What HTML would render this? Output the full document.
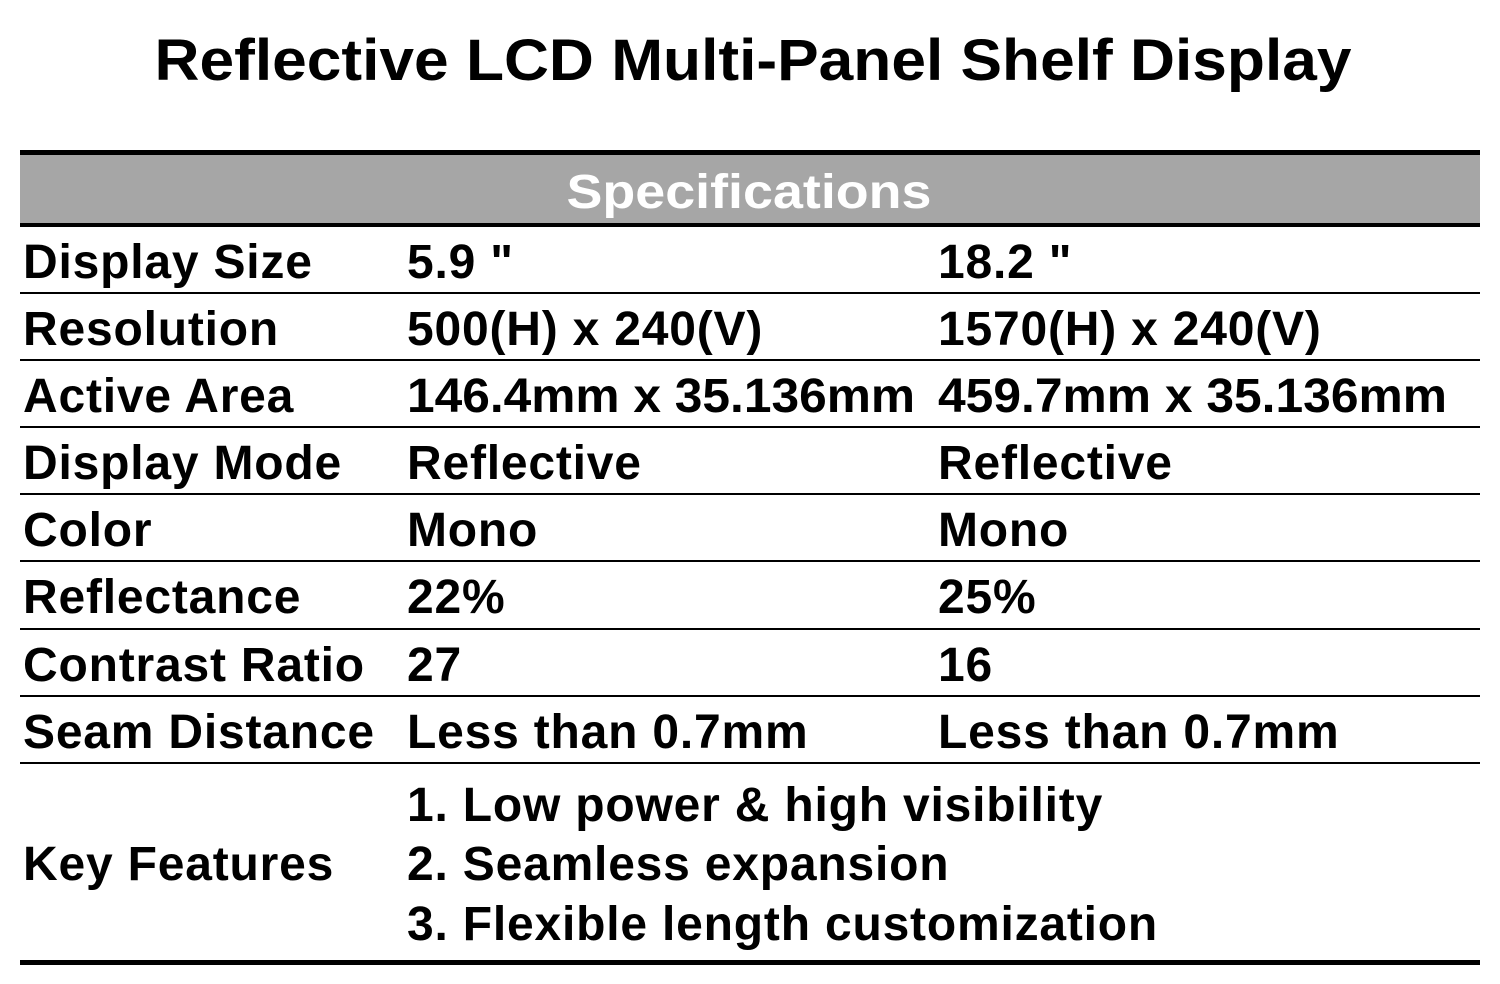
<!DOCTYPE html>
<html><head><meta charset="utf-8"><style>
html,body{margin:0;padding:0;background:#fff}
svg{display:block}
text{font-family:"Liberation Sans",Arial,sans-serif;font-weight:bold;fill:#000}
</style></head><body>
<svg width="1500" height="984" viewBox="0 0 1500 984">
<text x="753" y="80" font-size="58" text-anchor="middle" textLength="1197" lengthAdjust="spacingAndGlyphs">Reflective LCD Multi-Panel Shelf Display</text>
<rect x="20" y="155" width="1460" height="69" fill="#a6a6a6"/>
<rect x="20" y="150" width="1460" height="5" fill="#000"/>
<rect x="20" y="223" width="1460" height="4" fill="#000"/>
<text x="749" y="208" font-size="48" text-anchor="middle" fill="#fff" style="fill:#fff" textLength="365" lengthAdjust="spacingAndGlyphs">Specifications</text>
<g fill="#000">
<rect x="20" y="292" width="1460" height="2"/>
<rect x="20" y="359" width="1460" height="2"/>
<rect x="20" y="426" width="1460" height="2"/>
<rect x="20" y="493" width="1460" height="2"/>
<rect x="20" y="560" width="1460" height="2"/>
<rect x="20" y="628" width="1460" height="2"/>
<rect x="20" y="695" width="1460" height="2"/>
<rect x="20" y="762" width="1460" height="2"/>
<rect x="20" y="960" width="1460" height="5"/>
</g>
<g font-size="48" letter-spacing="0.8">
<text x="23" y="278">Display Size</text><text x="407" y="278">5.9 "</text><text x="938" y="278">18.2 "</text>
<text x="23" y="345">Resolution</text><text x="407" y="345">500(H) x 240(V)</text><text x="938" y="345">1570(H) x 240(V)</text>
<text x="23" y="412">Active Area</text><text x="407" y="412" letter-spacing="0" textLength="508" lengthAdjust="spacingAndGlyphs">146.4mm x 35.136mm</text><text x="938" y="412" letter-spacing="0" textLength="509" lengthAdjust="spacingAndGlyphs">459.7mm x 35.136mm</text>
<text x="23" y="479">Display Mode</text><text x="407" y="479">Reflective</text><text x="938" y="479">Reflective</text>
<text x="23" y="546">Color</text><text x="407" y="546">Mono</text><text x="938" y="546">Mono</text>
<text x="23" y="613">Reflectance</text><text x="407" y="613">22%</text><text x="938" y="613">25%</text>
<text x="23" y="681">Contrast Ratio</text><text x="407" y="681">27</text><text x="938" y="681">16</text>
<text x="23" y="748">Seam Distance</text><text x="407" y="748">Less than 0.7mm</text><text x="938" y="748">Less than 0.7mm</text>
<text x="23" y="880">Key Features</text>
<text x="407" y="821">1. Low power &amp; high visibility</text>
<text x="407" y="880">2. Seamless expansion</text>
<text x="407" y="940">3. Flexible length customization</text>
</g>
</svg>
</body></html>
